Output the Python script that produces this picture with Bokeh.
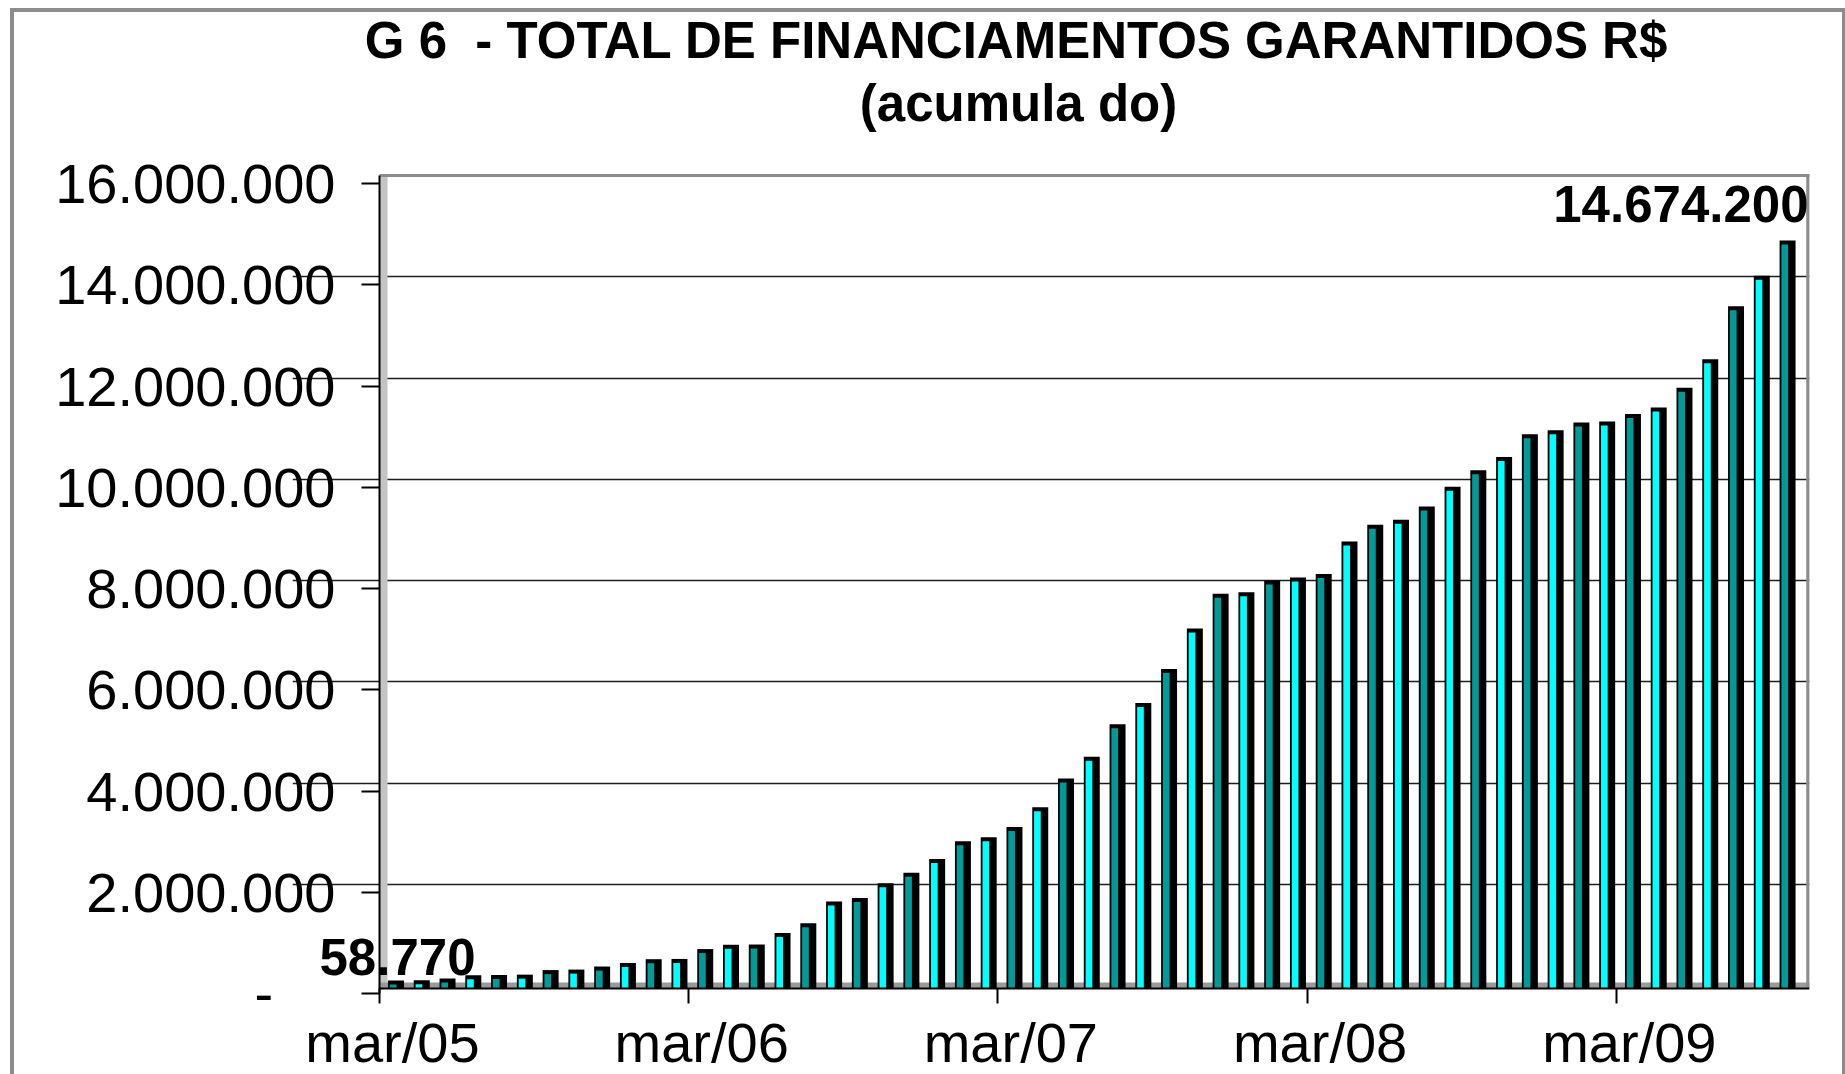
import numpy as np
from bokeh.plotting import figure
from bokeh.models import FixedTicker, Label, BoxAnnotation, Range1d, LinearAxis
from bokeh.embed import file_html
from bokeh.resources import INLINE

# ---------------- data ----------------
title_line1 = "G 6 \u00a0- TOTAL DE FINANCIAMENTOS GARANTIDOS R$"
title_line2 = "(acumula do)"

month_names = ["mar", "abr", "mai", "jun", "jul", "ago", "set", "out", "nov", "dez", "jan", "fev"]
months = []
for k in range(55):
    yr = 5 + (k + 2) // 12
    months.append(f"{month_names[k % 12]}/{yr:02d}")

values = [
    58770, 65000, 100000, 165000, 170000, 175000, 265000, 275000, 335000, 405000,
    480000, 485000, 680000, 765000, 770000, 1000000, 1190000, 1620000, 1690000, 1980000,
    2190000, 2460000, 2810000, 2890000, 3090000, 3480000, 4050000, 4480000, 5120000, 5540000,
    6210000, 7010000, 7700000, 7730000, 7960000, 8020000, 8090000, 8730000, 9060000, 9160000,
    9420000, 9810000, 10140000, 10400000, 10850000, 10930000, 11080000, 11100000, 11250000, 11380000,
    11770000, 12330000, 13380000, 13980000, 14674200,
]

x_tick_index = [0, 12, 24, 36, 48]
x_tick_labels = ["mar/05", "mar/06", "mar/07", "mar/08", "mar/09"]

y_ticks = [0, 2000000, 4000000, 6000000, 8000000, 10000000, 12000000, 14000000, 16000000]
y_tick_labels = ["-\u00a0\u00a0\u00a0\u00a0", "2.000.000", "4.000.000", "6.000.000", "8.000.000",
                 "10.000.000", "12.000.000", "14.000.000", "16.000.000"]

first_value_label = "58.770"
last_value_label = "14.674.200"

# ---------------- layout (canvas pixels; the page has no margin) ----------------
W, H = 1845, 1074
X0 = 379                      # canvas x of the value axis (x = 0)
MONTH_W = 25.77               # pixels per month
YB = 985                      # canvas y of value 0
Y16 = 175                     # canvas y of 16.000.000
NMONTHS = 55.5
FRAME_L, FRAME_T, FRAME_B = 292, 10, H
FRAME_R = int(round(X0 + NMONTHS * MONTH_W))
MPX = 1.0 / MONTH_W                     # months per pixel
PX = 16000000 / (YB - Y16)              # value per pixel
TEXT_SHIFT = 19                         # label baseline correction (px)


def dx(cx):
    return (cx - X0) * MPX


def dy(cy):
    return (YB - cy) * PX


def dy_text(baseline):
    return dy(baseline - TEXT_SHIFT)


FONT = "Liberation Sans"

p = figure(width=W, height=H, output_backend="svg", toolbar_location=None, title=None,
           x_range=Range1d(dx(FRAME_L), dx(FRAME_R)), y_range=Range1d(dy(FRAME_B), dy(FRAME_T)),
           min_border_left=FRAME_L, min_border_right=W - FRAME_R,
           min_border_top=FRAME_T, min_border_bottom=0)
p.border_fill_alpha = 0
p.background_fill_alpha = 0
p.outline_line_color = None
p.styles = {"box-shadow": "inset 10px 8px 0 0 #ffffff, inset 14px 12px 0 0 #8c8c8c, "
                          "inset -3px 0 0 0 #8c8c8c"}

YTOP = y_ticks[-1]
GREY = "#8c8c8c"
# 3D-like walls and floor
p.add_layout(BoxAnnotation(left=0, right=8 * MPX, bottom=0, top=YTOP, fill_color="#c4c4c4",
                           fill_alpha=1, line_color=None, level="underlay"))
p.add_layout(BoxAnnotation(left=0, right=NMONTHS, bottom=-3 * PX, top=3 * PX, fill_color="#9a9a9a",
                           fill_alpha=1, line_color=None, level="underlay"))
p.add_layout(BoxAnnotation(left=0, right=NMONTHS, bottom=YTOP - 1.5 * PX, top=YTOP + 1.5 * PX,
                           fill_color=GREY, fill_alpha=1, line_color=None, level="underlay"))
p.add_layout(BoxAnnotation(left=NMONTHS - 3.5 * MPX, right=NMONTHS, bottom=-3 * PX,
                           top=YTOP + 1.5 * PX, fill_color=GREY, fill_alpha=1, line_color=None,
                           level="underlay"))

# gridlines (back wall)
p.ygrid.ticker = FixedTicker(ticks=y_ticks[1:-1])
p.ygrid.bounds = (0, NMONTHS)
p.ygrid.grid_line_color = "#1e1e1e"
p.ygrid.grid_line_width = 1.6
p.xgrid.visible = False

# bars
idx = np.arange(len(values))
vals = np.array(values, dtype=float)
colors = ["#009a9a" if i % 2 == 0 else "#00ffff" for i in idx]
p.vbar(x=idx + 0.64, width=0.62, bottom=-3 * PX, top=vals + 2 * PX,
       fill_color="black", line_color=None)
p.vbar(x=idx + 0.53, width=0.26, bottom=-3 * PX, top=np.maximum(vals - 2 * PX, 0),
       fill_color=colors, line_color=None)

# ---- y tick labels: the regular left axis (labels at the front plane) ----
front = [int(round(t - 8 * PX)) for t in y_ticks]
yax = p.yaxis[0]
yax.ticker = FixedTicker(ticks=front)
yax.major_label_overrides = {t: l for t, l in zip(front, y_tick_labels)}
yax.major_label_text_font = FONT
yax.major_label_text_font_size = "56px"
yax.major_label_text_color = "black"
yax.major_label_standoff = FRAME_L - 335
yax.major_tick_out = 0
yax.major_tick_in = 0
yax.minor_tick_out = 0
yax.minor_tick_in = 0
yax.major_tick_line_color = None
yax.minor_tick_line_color = None
yax.axis_line_color = None

# ---- y tick marks + axis line at x = 0 ----
ytk = LinearAxis(fixed_location=0, bounds=(front[0], YTOP), ticker=FixedTicker(ticks=front),
                 major_label_overrides={t: "" for t in front}, major_label_text_font_size="0px",
                 major_label_standoff=0, major_tick_out=0, major_tick_in=18,
                 minor_tick_out=0, minor_tick_in=0, major_tick_line_color="black",
                 major_tick_line_width=2, axis_line_color="black", axis_line_width=2)
p.add_layout(ytk, "right")

# ---- x tick marks + axis line at the front floor edge ----
xax = p.xaxis[0]
p.below.remove(xax)
xtk = LinearAxis(fixed_location=dy(988), bounds=(0, NMONTHS), ticker=FixedTicker(ticks=x_tick_index),
                 major_label_overrides={t: "" for t in x_tick_index}, major_label_text_font_size="0px",
                 major_label_standoff=0, major_tick_out=0, major_tick_in=15,
                 minor_tick_out=0, minor_tick_in=0, major_tick_line_color="black",
                 major_tick_line_width=2, axis_line_color="black", axis_line_width=2)
p.add_layout(xtk, "above")

# x category labels (centred on the first bar of each year)
for t, lab in zip(x_tick_index, x_tick_labels):
    p.add_layout(Label(x=t + 0.5, y=dy_text(1061), text=lab, text_align="center",
                       text_baseline="alphabetic", text_font=FONT, text_font_size="56px",
                       text_color="black"))

# data labels
p.add_layout(Label(x=dx(397), y=dy_text(975), text=first_value_label,
                   text_align="center", text_baseline="alphabetic", text_font=FONT,
                   text_font_size="51px", text_font_style="bold", text_color="black"))
p.add_layout(Label(x=dx(1808), y=dy_text(222), text=last_value_label,
                   text_align="right", text_baseline="alphabetic", text_font=FONT,
                   text_font_size="51px", text_font_style="bold", text_color="black"))

# titles
p.add_layout(Label(x=dx(1016), y=dy_text(59), text=title_line1, text_align="center",
                   text_baseline="alphabetic", text_font=FONT, text_font_size="51px",
                   text_font_style="bold", text_color="black"))
p.add_layout(Label(x=dx(1018), y=dy_text(122), text=title_line2, text_align="center",
                   text_baseline="alphabetic", text_font=FONT, text_font_size="51px",
                   text_font_style="bold", text_color="black"))

open("out.html", "w").write(file_html(p, INLINE))
